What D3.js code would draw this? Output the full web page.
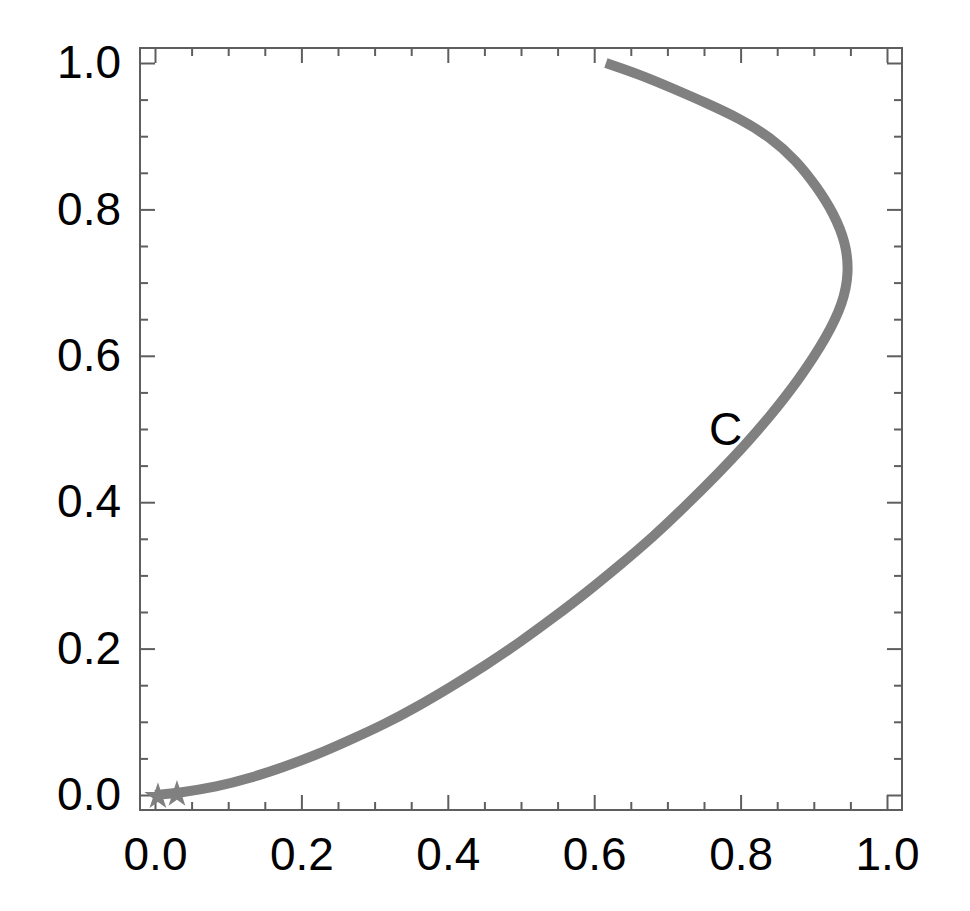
<!DOCTYPE html>
<html>
<head>
<meta charset="utf-8">
<script src="https://cdn.jsdelivr.net/npm/d3@7"></script>
<style>
  html, body { margin: 0; padding: 0; background: #fff; }
  svg { display: block; }
  text { font-family: "Liberation Sans", Arial, sans-serif; }
</style>
</head>
<body>
<svg id="chart" width="970" height="911"></svg>
<script>
// ---- data ----
const curveX = [0.000, 0.034, 0.084, 0.130, 0.175, 0.221, 0.266, 0.312, 0.357, 0.403,
                0.453, 0.499, 0.544, 0.590, 0.635, 0.681, 0.726, 0.772, 0.804, 0.836,
                0.881, 0.918, 0.940, 0.948, 0.944, 0.927, 0.904, 0.876, 0.840, 0.799,
                0.754, 0.708, 0.663, 0.616];
const curveY = [0.000, 0.003, 0.011, 0.023, 0.038, 0.055, 0.075, 0.096, 0.120, 0.147,
                0.178, 0.209, 0.242, 0.277, 0.314, 0.353, 0.396, 0.442, 0.476, 0.512,
                0.569, 0.626, 0.672, 0.713, 0.754, 0.795, 0.831, 0.867, 0.899, 0.924,
                0.945, 0.965, 0.984, 1.000];
const markerX = [0.004, 0.030];
const markerY = [-0.002, 0.001];
const majorTicks = [0.0, 0.2, 0.4, 0.6, 0.8, 1.0];
const majorLabels = ["0.0", "0.2", "0.4", "0.6", "0.8", "1.0"];
const minorTicks = [0.05, 0.10, 0.15, 0.25, 0.30, 0.35, 0.45, 0.50, 0.55, 0.65, 0.70, 0.75, 0.85, 0.90, 0.95];
const annotation = { text: "C", x: 0.757, y: 0.478 };

// ---- layout ----
const frame = { left: 140, top: 48, right: 902, bottom: 810 };
const pad = 15;
const svg = d3.select("#chart");

const x = d3.scaleLinear().domain([0, 1]).range([frame.left + pad, frame.right - pad]);
const y = d3.scaleLinear().domain([0, 1]).range([frame.bottom - pad, frame.top + pad]);

const frameColor = "#5e5e5e";
const fontSize = 46;

// frame
svg.append("rect")
  .attr("x", frame.left).attr("y", frame.top)
  .attr("width", frame.right - frame.left).attr("height", frame.bottom - frame.top)
  .attr("fill", "none").attr("stroke", frameColor).attr("stroke-width", 2);

function styleAxis(g) {
  g.select(".domain").remove();
  g.selectAll(".tick line").attr("stroke", frameColor).attr("stroke-width", 2);
  g.selectAll(".tick text").attr("font-size", fontSize).attr("fill", "#000")
    .attr("font-family", "'Liberation Sans', Arial, sans-serif");
}

const fmt = (d) => majorLabels[majorTicks.indexOf(d)];

// bottom
svg.append("g").attr("transform", `translate(0,${frame.bottom})`)
  .call(d3.axisBottom(x).tickValues(majorTicks).tickFormat(fmt).tickSize(-15).tickPadding(27))
  .call(styleAxis);
svg.append("g").attr("transform", `translate(0,${frame.bottom})`)
  .call(d3.axisBottom(x).tickValues(minorTicks).tickFormat("").tickSize(-8))
  .call(styleAxis);
// top
svg.append("g").attr("transform", `translate(0,${frame.top})`)
  .call(d3.axisTop(x).tickValues(majorTicks).tickFormat("").tickSize(-15))
  .call(styleAxis);
svg.append("g").attr("transform", `translate(0,${frame.top})`)
  .call(d3.axisTop(x).tickValues(minorTicks).tickFormat("").tickSize(-8))
  .call(styleAxis);
// left
svg.append("g").attr("transform", `translate(${frame.left},0)`)
  .call(d3.axisLeft(y).tickValues(majorTicks).tickFormat(fmt).tickSize(-15).tickPadding(19))
  .call(styleAxis);
svg.append("g").attr("transform", `translate(${frame.left},0)`)
  .call(d3.axisLeft(y).tickValues(minorTicks).tickFormat("").tickSize(-8))
  .call(styleAxis);
// right
svg.append("g").attr("transform", `translate(${frame.right},0)`)
  .call(d3.axisRight(y).tickValues(majorTicks).tickFormat("").tickSize(-15))
  .call(styleAxis);
svg.append("g").attr("transform", `translate(${frame.right},0)`)
  .call(d3.axisRight(y).tickValues(minorTicks).tickFormat("").tickSize(-8))
  .call(styleAxis);

// curve
const pts = curveX.map((d, i) => [d, curveY[i]]);
const line = d3.line().x(d => x(d[0])).y(d => y(d[1])).curve(d3.curveBasis);
svg.append("path")
  .attr("d", line(pts))
  .attr("fill", "none")
  .attr("stroke", "#808080")
  .attr("stroke-width", 10)
  .attr("stroke-linejoin", "round")
  .attr("stroke-linecap", "butt");

// star markers at start
const star = d3.symbol().type(d3.symbolStar).size(230);
svg.selectAll("path.star")
  .data(markerX.map((d, i) => [d, markerY[i]]))
  .join("path")
  .attr("class", "star")
  .attr("d", star)
  .attr("transform", d => `translate(${x(d[0])},${y(d[1])})`)
  .attr("fill", "#808080");

// annotation
svg.append("text")
  .attr("x", x(annotation.x)).attr("y", y(annotation.y))
  .attr("font-size", fontSize)
  .attr("fill", "#000")
  .text(annotation.text);
</script>
</body>
</html>
